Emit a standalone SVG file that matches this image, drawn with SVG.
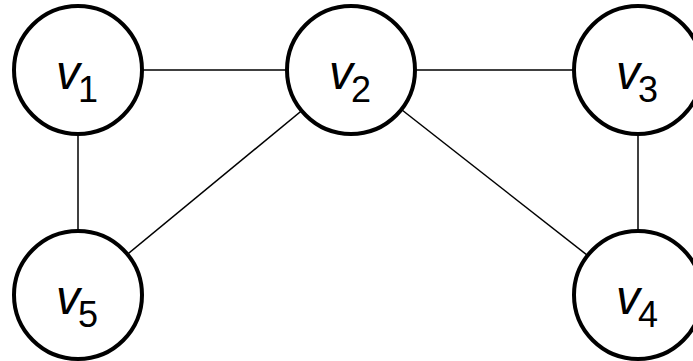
<svg xmlns="http://www.w3.org/2000/svg" width="693" height="361" viewBox="0 0 693 361">
<style>
.node circle{fill:#fff;stroke:#000;stroke-width:4}
.edges line{stroke:#000;stroke-width:1.5}
text{font-family:"Liberation Sans",Arial,sans-serif;fill:#000;font-style:italic;font-size:48px}
.s{font-size:36px;font-style:normal}
</style>
<rect width="693" height="361" fill="#fff"/>
<g id="edges" class="edges">
<line x1="78" y1="70" x2="351" y2="70"/>
<line x1="351" y1="70" x2="638" y2="70"/>
<line x1="78" y1="70" x2="78" y2="295"/>
<line x1="638" y1="70" x2="638" y2="295"/>
<line x1="351" y1="70" x2="78" y2="295"/>
<line x1="351" y1="70" x2="638" y2="295"/>
</g>
<g id="v1" class="node"><circle cx="78" cy="70" r="64"/><text x="56" y="89">v<tspan class="s" dx="-2" dy="13">1</tspan></text></g>
<g id="v2" class="node"><circle cx="351" cy="70" r="64"/><text x="329" y="89">v<tspan class="s" dx="-2" dy="13">2</tspan></text></g>
<g id="v3" class="node"><circle cx="638" cy="70" r="64"/><text x="616" y="89">v<tspan class="s" dx="-2" dy="13">3</tspan></text></g>
<g id="v4" class="node"><circle cx="638" cy="295" r="64"/><text x="616" y="314">v<tspan class="s" dx="-2" dy="13">4</tspan></text></g>
<g id="v5" class="node"><circle cx="78" cy="295" r="64"/><text x="56" y="314">v<tspan class="s" dx="-2" dy="13">5</tspan></text></g>
</svg>
